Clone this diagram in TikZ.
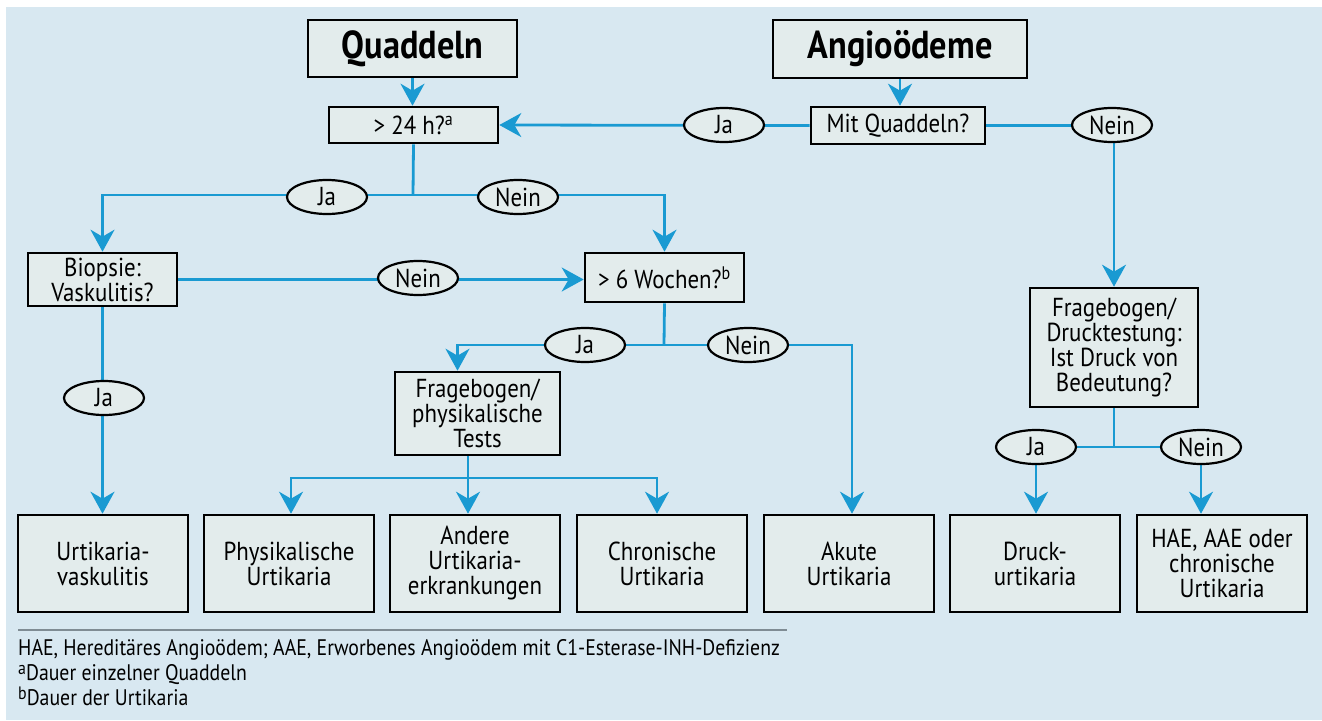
\documentclass[tikz,border=0pt]{standalone}
\usepackage{fontspec}
\setmainfont{PT Sans}[FakeStretch=0.88]
\usetikzlibrary{arrows.meta,shapes.geometric}
\definecolor{bgblue}{HTML}{D8E8F1}
\definecolor{boxfill}{HTML}{E3ECEC}
\definecolor{lineblue}{HTML}{1A9AD2}
\definecolor{rulegray}{HTML}{7F8C94}
\pgfdeclarelayer{back}
\pgfdeclarelayer{lines}
\pgfsetlayers{back,lines,main}
\newcommand{\fnmark}[1]{\raisebox{0.5ex}{\fontsize{18}{18}\selectfont #1}}
\begin{document}
\begin{tikzpicture}[x=1pt,y=-1pt,
  box/.style={draw=black,line width=2.6pt,fill=boxfill,align=center,inner sep=0pt,
    font=\fontsize{26}{25}\selectfont},
  bottombox/.style={box,minimum width=170pt,minimum height=97pt},
  lab/.style={ellipse,draw=black,line width=2.2pt,fill=boxfill,minimum width=80pt,
    minimum height=34pt,inner sep=0pt,font=\fontsize{26}{25}\selectfont},
  conn/.style={draw=lineblue,line width=2.8pt},
  arr/.style={conn,-{Stealth[length=22pt,width=24pt,inset=7pt]}},
  fn/.style={anchor=base west,inner sep=0pt,font=\fontsize{22.5}{24}\selectfont}]
\useasboundingbox (0,0) rectangle (1322,720);
\begin{pgfonlayer}{back}
\fill[white] (0,0) rectangle (1322,720);
\fill[bgblue] (6,7) rectangle (1322,720);
\end{pgfonlayer}

% top boxes
\node[box,minimum width=209pt,minimum height=57pt,font=\bfseries\fontsize{39}{40}\selectfont] (q) at (412.5,48.5) {Quaddeln};
\node[box,minimum width=254pt,minimum height=58pt,font=\bfseries\fontsize{39}{40}\selectfont] (ang) at (900,49) {Angioödeme};
\node[box,minimum width=169pt,minimum height=36pt] (h24) at (413.5,125) {> 24 h?\textsuperscript{a}};
\node[box,minimum width=174pt,minimum height=37pt] (mq) at (898,125.5) {Mit Quaddeln?};
\node[lab] (ja1) at (724,125) {Ja};
\node[lab] (nein1) at (1112,125) {Nein};

% second level
\coordinate (s1) at (413,195);
\node[lab] (ja2) at (327,197) {Ja};
\node[lab] (nein2) at (518,197) {Nein};
\node[box,minimum width=149pt,minimum height=53pt] (bio) at (102.5,279.5) {Biopsie:\\Vaskulitis?};
\node[box,minimum width=159pt,minimum height=49pt] (w6) at (664.5,277.5) {> 6 Wochen?\textsuperscript{b}};
\node[lab] (nein3) at (418,278) {Nein};
\node[lab] (ja4) at (104,398) {Ja};

% third level
\coordinate (s2) at (664,345);
\node[lab] (ja5) at (585,345) {Ja};
\node[lab] (nein5) at (748,345) {Nein};
\node[box,minimum width=165pt,minimum height=83pt] (fp) at (477.5,413.5) {Fragebogen/\\physikalische\\Tests};
\coordinate (s3) at (468,478);

% right branch
\node[box,minimum width=168pt,minimum height=119pt] (fd) at (1114,347.5) {Fragebogen/\\Drucktestung:\\Ist Druck von\\Bedeutung?};
\coordinate (s4) at (1114,447);
\node[lab] (ja6) at (1036,447) {Ja};
\node[lab] (nein6) at (1201,447) {Nein};

% bottom boxes
\node[bottombox] (uv) at (103,563.5) {Urtikaria-\\vaskulitis};
\node[bottombox] (pu) at (289,563.5) {Physikalische\\Urtikaria};
\node[bottombox] (ae) at (475,563.5) {Andere\\Urtikaria-\\erkrankungen};
\node[bottombox] (cu) at (662,563.5) {Chronische\\Urtikaria};
\node[bottombox] (ak) at (849,563.5) {Akute\\Urtikaria};
\node[bottombox] (du) at (1035,563.5) {Druck-\\urtikaria};
\node[bottombox] (hae) at (1222,563.5) {HAE, AAE oder\\chronische\\Urtikaria};

% footnotes
\coordinate (r1) at (18,630);
\coordinate (r2) at (787,630);
\node[fn] (fn1) at (18,655) {HAE, Hereditäres Angioödem; AAE, Erworbenes Angioödem mit C1-Esterase-INH-Defizienz};
\node[fn] (fn2) at (18,680) {\fnmark{a}Dauer einzelner Quaddeln};
\node[fn] (fn3) at (18,705) {\fnmark{b}Dauer der Urtikaria};

\begin{pgfonlayer}{lines}
\draw[rulegray,line width=1.3pt] (r1) -- (r2);
\draw[arr] (q.south) -- (q.south |- h24.north);
\draw[arr] (ang.south) -- (ang.south |- mq.north);
\draw[arr] (mq.west) -- (h24.east);
\draw[arr] (mq.east) -| (fd.north);
\draw[conn] (h24.south) -- (s1);
\draw[arr] (s1) -| (bio.north);
\draw[arr] (s1) -| (w6.north);
\draw[arr] (bio.east) -- (bio.east -| w6.west);
\draw[arr] (bio.south) -- (bio.south |- uv.north);
\draw[conn] (w6.south) -- (s2);
\draw[arr] (s2) -| ([xshift=-20pt]fp.north);
\draw[arr] (s2) -| ([xshift=3pt]ak.north);
\draw[conn] (fp.south -| s3) -- (s3);
\draw[arr] (s3) -| ([xshift=2pt]pu.north);
\draw[arr] (s3) -- (s3 |- ae.north);
\draw[arr] (s3) -| ([xshift=-5pt]cu.north);
\draw[conn] (fd.south) -- (s4);
\draw[conn] (ja6) -- (nein6);
\draw[arr] (ja6.south) -- (ja6.south |- du.north);
\draw[arr] (nein6.south) -- (nein6.south |- hae.north);
\end{pgfonlayer}
\end{tikzpicture}
\end{document}
